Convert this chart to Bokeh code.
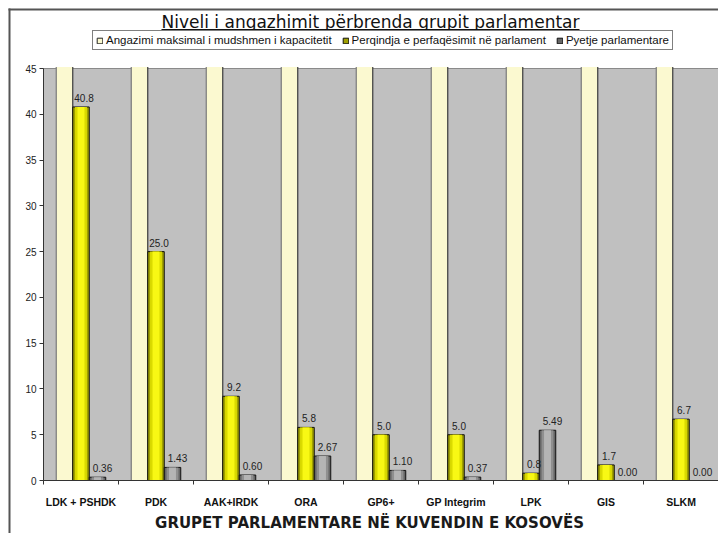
from bokeh.plotting import figure
from bokeh.models import (Range1d, FixedTicker, Legend, LegendItem, ColumnDataSource)
from bokeh.transform import dodge
from bokeh.core.properties import value
from bokeh.embed import file_html
from bokeh.resources import INLINE

# ---- data ----
groups = ["LDK + PSHDK", "PDK", "AAK+IRDK", "ORA", "GP6+", "GP Integrim", "LPK", "GIS", "SLKM"]
capacity = [100, 100, 100, 100, 100, 100, 100, 100, 100]
representation = [40.8, 25.0, 9.2, 5.8, 5.0, 5.0, 0.8, 1.7, 6.7]
questions = [0.36, 1.43, 0.60, 2.67, 1.10, 0.37, 5.49, 0.00, 0.00]
y_ticks = [0, 5, 10, 15, 20, 25, 30, 35, 40, 45]
series_names = ["Angazimi maksimal i mudshmen i kapacitetit",
                "Perqindja e perfaqësimit në parlament",
                "Pyetje parlamentare"]
title_text = "Niveli i angazhimit përbrenda grupit parlamentar"
x_title_text = "GRUPET PARLAMENTARE NË KUVENDIN E KOSOVËS"

# ---- layout constants (pixels) ----
W, H = 718, 533
PX_X0, PX_PER_X = 43, 75.0          # pixel of x=0, pixels per category
PX_Y0, PX_YTOP = 480, 68            # pixel of y=0 and of the top of the value axis
Y_MAX = 45
PX_PER_Y = (PX_Y0 - PX_YTOP) / Y_MAX


def dx(px):
    return (px - PX_X0) / PX_PER_X


def dy(py):
    return (PX_Y0 - py) / PX_PER_Y


n = len(groups)
centers = [i + 0.5 for i in range(n)]
bw = 0.22
# bars taller than the value axis are cut at its top, as in the original chart
clip_top = dy(PX_YTOP - 1.5)

src = ColumnDataSource(dict(
    xc=centers,
    cap=[min(v, clip_top) for v in capacity],
    rep=representation, q=questions,
    rep_lbl=[f"{v:.1f}" for v in representation],
    q_lbl=[f"{v:.2f}" for v in questions],
))

p = figure(width=W, height=H, x_range=Range1d(dx(0), dx(W)), y_range=Range1d(dy(H), dy(0)),
           output_backend="svg", toolbar_location=None, min_border=0)
p.background_fill_color = "white"
p.border_fill_color = "white"
p.outline_line_color = None
p.xgrid.visible = False
p.ygrid.visible = False

# plot area
p.quad(left=[0], right=[n], bottom=[0], top=[Y_MAX],
       fill_color="#C0C0C0", line_color="#8A8A8A", line_width=1)

# bars
p.vbar(x=dodge("xc", -bw), top="cap", width=bw, source=src,
       fill_color="#FBF9D0", line_color=None)
p.segment(x0=dodge("xc", -1.5 * bw), x1=dodge("xc", -1.5 * bw), y0=0, y1="cap",
          source=src, line_color="#7A7A7A", line_width=1.2)
p.segment(x0=dodge("xc", -0.5 * bw), x1=dodge("xc", -0.5 * bw), y0=0, y1="cap",
          source=src, line_color="#3A3A3A", line_width=1.2)
yel = p.vbar(x="xc", top="rep", width=bw, source=src,
             fill_color="#A0A000", line_color="#111111", line_width=1)
p.vbar(x="xc", top="rep", width=bw * 0.72, source=src,
       fill_color="#DADA00", line_color=None)
p.vbar(x="xc", top="rep", width=bw * 0.42, source=src,
       fill_color="#F8F814", line_color=None)
gry = p.vbar(x=dodge("xc", bw), top="q", width=bw, source=src,
             fill_color="#666666", line_color="#111111", line_width=1)
p.vbar(x=dodge("xc", bw), top="q", width=bw * 0.72, source=src,
       fill_color="#8F8F8F", line_color=None)
p.vbar(x=dodge("xc", bw), top="q", width=bw * 0.42, source=src,
       fill_color="#B4B4B4", line_color=None)

# outlined version of the capacity bars, used only for the legend swatch
pale_key = p.vbar(x=dodge("xc", -bw), top="cap", width=bw, source=src,
                  fill_color="#FBF9D0", line_color="#222222", visible=False)

# value labels
lbl_font = value("Liberation Sans")
p.text(x="xc", y="rep", text="rep_lbl", source=src,
       text_align="center", text_baseline="bottom", x_offset=3, y_offset=-5,
       text_font=lbl_font, text_font_size="10px", text_color="#222222")
p.text(x=dodge("xc", bw), y="q", text="q_lbl", source=src,
       text_align="center", text_baseline="bottom", x_offset=5, y_offset=-5,
       text_font=lbl_font, text_font_size="10px", text_color="#222222")

# axes (fixed inside the canvas)
xa = p.xaxis[0]
xa.fixed_location = 0
xa.bounds = (0, n)
xa.ticker = FixedTicker(ticks=centers, minor_ticks=list(range(n + 1)))
xa.major_label_overrides = {c: g for c, g in zip(centers, groups)}
xa.major_tick_in = 0
xa.major_tick_out = 0
xa.minor_tick_in = 0
xa.minor_tick_out = 4
xa.minor_tick_line_color = "#333333"
xa.axis_line_color = "#333333"
xa.major_label_standoff = 11
xa.major_label_text_font = "Liberation Sans"
xa.major_label_text_font_style = "bold"
xa.major_label_text_font_size = "10.5px"
xa.major_label_text_color = "#111111"

ya = p.yaxis[0]
ya.fixed_location = 0
ya.bounds = (0, Y_MAX)
ya.ticker = FixedTicker(ticks=y_ticks)
ya.minor_tick_line_color = None
ya.major_tick_in = 0
ya.major_tick_out = 4
ya.major_tick_line_color = "#333333"
ya.axis_line_color = "#333333"
ya.major_label_standoff = 3
ya.major_label_text_font = "Liberation Sans"
ya.major_label_text_font_size = "10px"
ya.major_label_text_color = "#222222"

# title + underline
p.text(x=[dx(370)], y=[dy(21.5)], text=[title_text],
       text_align="center", text_baseline="middle",
       text_font=value("DejaVu Sans"), text_font_size="17px", text_color="#111111")
p.quad(left=[dx(161)], right=[dx(579)], bottom=[dy(29.8)], top=[dy(28.6)],
       fill_color="#111111", line_color=None)

# x axis title
p.text(x=[dx(369)], y=[dy(522)], text=[x_title_text],
       text_align="center", text_baseline="middle",
       text_font=value("DejaVu Sans"), text_font_style="bold",
       text_font_size="15px", text_color="#1A1A1A")

# outer frame lines (left and top)
p.quad(left=[dx(8)], right=[dx(10)], bottom=[dy(H)], top=[dy(8)],
       fill_color="#555555", line_color=None)
p.quad(left=[dx(8)], right=[dx(W)], bottom=[dy(10)], top=[dy(8)],
       fill_color="#555555", line_color=None)

# legend
legend = Legend(items=[LegendItem(label=series_names[0], renderers=[pale_key]),
                       LegendItem(label=series_names[1], renderers=[yel]),
                       LegendItem(label=series_names[2], renderers=[gry])],
                orientation="horizontal", location=(92, H - 50),
                border_line_color="black", border_line_width=1,
                background_fill_color="white", background_fill_alpha=1,
                inactive_fill_alpha=0,
                label_text_font="Liberation Sans", label_text_font_size="11.5px",
                label_text_color="#111111",
                glyph_width=7, glyph_height=7, label_standoff=3, spacing=10,
                padding=3, margin=0, label_height=12)
p.add_layout(legend, "center")

open("out.html", "w").write(file_html(p, INLINE))
